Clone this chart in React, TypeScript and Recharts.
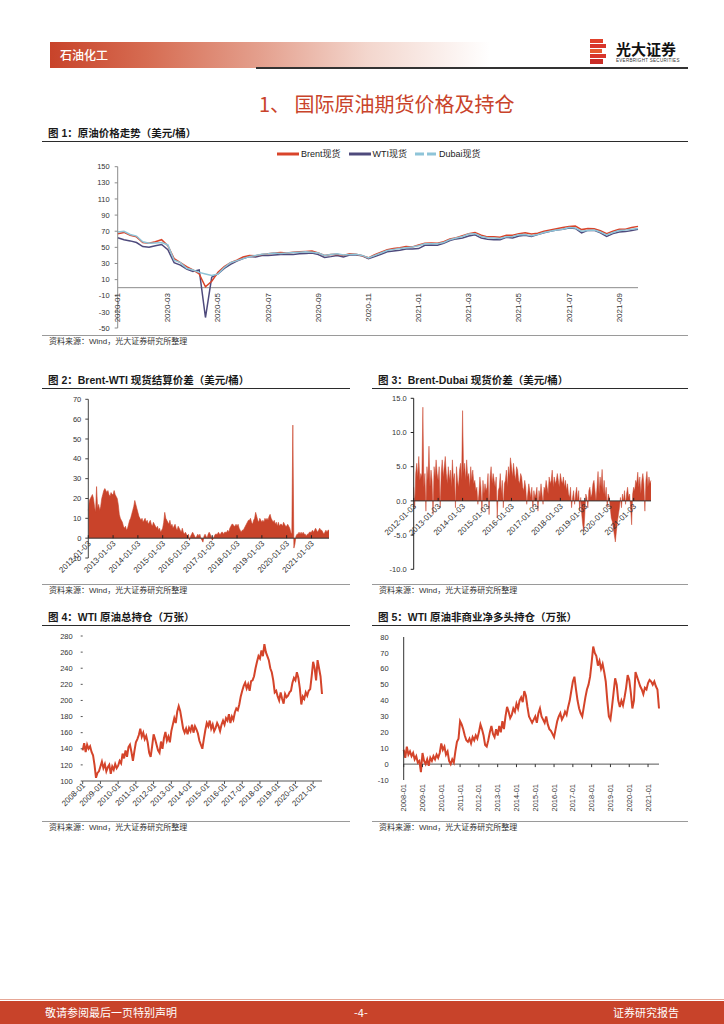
import React from 'react';
import {
  LineChart, Line, AreaChart, Area,
  XAxis, YAxis, ReferenceLine,
} from 'recharts';

const LATIN = '"Liberation Sans", Arial, "Noto Sans CJK SC", sans-serif';
const CJK = '"Noto Sans CJK SC", "Liberation Sans", sans-serif';
const RED = '#c9432a';
const TICK_TEXT = '#333';

// ---- 图1：原油价格走势（weekly samples 2020-01 ~ 2021-09）----
const priceMonths = [
  '2020-01', '2020-02', '2020-03', '2020-04', '2020-05', '2020-06', '2020-07',
  '2020-08', '2020-09', '2020-10', '2020-11', '2020-12', '2021-01', '2021-02',
  '2021-03', '2021-04', '2021-05', '2021-06', '2021-07', '2021-08', '2021-09',
];
const priceWeekDays = ['01', '08', '15', '22'];
const priceTicks = [
  '2020-01-01', '2020-03-01', '2020-05-01', '2020-07-01', '2020-09-01', '2020-11-01',
  '2021-01-01', '2021-03-01', '2021-05-01', '2021-07-01', '2021-09-01',
];
const priceYTicks = [-50, -30, -10, 10, 30, 50, 70, 90, 110, 130, 150];

const brentSpot = [
  67, 68.5, 65, 63, 56, 55, 57, 59.5, 52, 36, 31, 26, 22, 17, 1, 8,
  19, 26, 31, 34, 38, 40, 39.5, 41, 42, 43, 43.5, 43, 44, 44.5, 45, 45.5,
  43, 40, 41, 41.5, 40, 42, 41.5, 39.5, 37, 41, 44, 47, 48.5, 49.5, 51, 50.5,
  53, 55, 55.5, 55, 57, 60.5, 62, 64.5, 67, 68.5, 65, 63, 63, 62.5, 65, 65,
  67, 68, 66.5, 67.5, 70, 71.5, 73, 74.5, 76, 76.5, 72, 73.5, 73, 70.5, 67, 70,
  72.5, 72.5, 74.5, 76,
];
const wtiSpot = [
  62, 59.5, 58, 56, 51, 50, 52, 53.5, 47, 31, 28, 23, 20, 22, -37, 13,
  17, 24, 29, 33, 36, 38.5, 38, 40, 40, 40.5, 41, 41.5, 41, 42, 42.5, 43,
  41, 37.5, 38.5, 40, 38, 40.5, 40.5, 39.5, 36, 38.5, 41.5, 44.5, 45.5, 46.5, 48, 48,
  48.5, 52.5, 53, 52.5, 55, 58.5, 60.5, 61.5, 64, 65.5, 61.5, 60, 59.5, 59.5, 62.5, 61.5,
  64, 65, 63.5, 66, 68, 70, 71.5, 72.5, 74, 73.5, 68, 71, 71, 68, 63.5, 67,
  69, 69.5, 71, 72.5,
];
const dubaiSpot = [
  69, 70, 66, 64, 57, 55, 55.5, 56, 53, 34, 31, 24, 22, 19, 17, 15,
  17, 25, 31, 33.5, 36, 38.5, 40, 41.5, 42, 43, 42.5, 43, 43.5, 44, 44.5, 44,
  43, 40, 41, 42, 40.5, 41, 41.5, 40, 37, 40, 43, 46, 47.5, 48.5, 49.5, 50.5,
  52, 54.5, 54.5, 54.5, 56, 59.5, 61.5, 63.5, 66.5, 67, 63.5, 62, 61.5, 61, 63, 63.5,
  65.5, 66, 64.5, 66, 68.5, 70, 71.5, 72.5, 74.5, 74, 70, 71, 71.5, 69, 65.5, 68.5,
  71, 71.5, 72.5, 73.5,
];

// ---- 图2/图3：价差（semi-monthly samples 2012-01 ~ 2021-09）----
const spreadYears = ['2012', '2013', '2014', '2015', '2016', '2017', '2018', '2019', '2020', '2021'];
const monthNums = ['01', '02', '03', '04', '05', '06', '07', '08', '09', '10', '11', '12'];
const halfMonthDays = ['03', '17'];
const spreadTicks = [
  '2012-01-03', '2013-01-03', '2014-01-03', '2015-01-03', '2016-01-03',
  '2017-01-03', '2018-01-03', '2019-01-03', '2020-01-03', '2021-01-03',
];

const brentWtiSpread = [
  14, 19, 20, 21, 22, 20, 16, 13, 26, 15, 17, 14, 16, 20, 22, 24, 25, 24, 23, 24, 22, 21, 23, 22,
  22, 24, 22, 21, 20, 17, 12, 10, 9, 8, 6, 5, 6, 4, 5, 7, 9, 10, 12, 14, 16, 19, 17, 15,
  13, 11, 10, 9, 10, 8, 9, 10, 8, 9, 7, 8, 9, 7, 6, 8, 7, 6, 5, 6, 4, 5, 3, 4,
  5, 8, 13, 10, 9, 8, 7, 9, 6, 7, 5, 6, 7, 5, 4, 6, 5, 4, 3, 5, 3, 2, 3, 2,
  1, 2, -1, 1, 2, 3, 2, 1, 0, 1, 2, 1, 2, 0, -1, -2, 1, 2, 1, 0, 2, 3, 2, 1,
  -1, 0, 1, 2, 2, 2, 3, 2, 2, 3, 3, 2, 3, 3, 3, 4, 3, 5, 6, 7, 7, 6, 6, 7,
  6, 7, 5, 4, 3, 4, 4, 5, 6, 7, 8, 9, 9, 10, 8, 7, 9, 10, 13, 11, 9, 8, 10, 9,
  8, 9, 8, 10, 9, 10, 9, 11, 12, 10, 9, 8, 9, 7, 8, 6, 8, 6, 7, 7, 6, 8, 7, 6,
  6, 7, 6, 5, 3, 2, 57, -5, -3, 1, 2, 2, 3, 2, 3, 2, 3, 2, 2, 1, 2, 2, 3, 3,
  3, 4, 3, 4, 5, 4, 3, 4, 5, 4, 4, 3, 2, 3, 4, 3, 4, 4,
];
const brentDubaiSpread = [
  2, -1, 4, 5.5, 3.5, 6.5, 3, 4, 3.5, 13.7, 2, 4, -1.5, 5, 3, 8, 2, 4.5, 3, -2, 5, 3.5, 6, 4,
  3, 5, -1, 4, 6, 3.5, 5, 6.5, 4, 2.5, 5, 3, 4.5, 2, 6, 3, 4, -1, 5, 3, 2, 4.5, 5.5, 3,
  13.2, 4, 5.5, 3, 6, 3.5, 4, 2, 5, 3, 4.5, 2.5, 3, 1.5, 2, -0.5, 1, 3.5, 2, -1.5, 3, 1, 2.5, 1.5,
  2, 4, -2, 3.5, 5, 2.5, 4, 3, 2, 3.5, -2.5, 1.5, 2, 4, 1, 3, -1, 2.5, 3, 4.5, 2, 5, 3.5, 6.3,
  5, 3.5, 5.5, 4, 3, 5, 4.5, 3, 2.5, 4, 3.5, 2, 1.5, 3, 2, -0.5, 1, 2.5, 1.5, 0.5, 2, -1, 1.5, 0.5,
  1, 2, -1.5, 1.5, 0.5, 2.5, 1, -0.5, 2, 1.5, 3, 2, 1, 3.5, 2.5, 3, 4.5, 2, 3.5, 2.5, 3, 4, 3, 2,
  4, 3, 2.5, 3.5, 2, 3, 1.5, 2.5, 1, 0.5, 2, -1, 0.5, 1.5, -0.5, 1, 2, 0, 1.5, -1.5, 0.5, -2, -3.5, -4.5,
  -2, 1, 0.5, -1, 1.5, 2, 0.5, 1, 2.5, 3, 1.5, 0, 2, 4.3, 1, 3.5, 2, 4.6, 1, 3, 0.5, 2, -1, 1,
  0.5, -1, -2.5, -3, -4, -5, -6, -4.5, -3, -2, -1, 0.5, -1, 1, 0, 1.5, -0.5, 1, 2, 0.5, 1, -1, -3.5, 1,
  2, 1.5, 3, 2.5, 4.2, 2, 3.5, 1, 3, 4, 2.5, -1.5, 3, 4.3, 2, 3.5, 2.5, 3,
];

// ---- 图4/图5：持仓（monthly 2008-01 ~ 2021）----
const positionYears = [
  '2008', '2009', '2010', '2011', '2012', '2013', '2014',
  '2015', '2016', '2017', '2018', '2019', '2020', '2021',
];
const positionTicks = positionYears.map((y) => `${y}-01`);

const wtiOpenInterest = [
  138, 147, 136, 145, 140, 143, 136, 132, 120, 104, 110, 112,
  118, 124, 116, 121, 112, 117, 120, 109, 118, 114, 121, 116,
  119, 125, 122, 134, 128, 138, 130, 142, 145, 136, 125, 137,
  148, 152, 157, 165, 155, 160, 152, 156, 148, 135, 130, 143,
  158, 152, 145, 138, 135, 149, 140, 153, 161, 150, 155, 148,
  162, 170, 178, 172, 186, 193, 187, 176, 165, 160, 165, 158,
  166, 162, 170, 160, 168, 164, 159, 150, 145, 140, 152, 163,
  172, 168, 175, 165, 170, 162, 166, 172, 168, 162, 170, 175,
  170, 178, 175, 183, 172, 180, 176, 185, 190, 188, 195, 205,
  212, 218, 222, 215, 220, 212, 224, 225, 230, 240, 248, 255,
  252, 262, 255, 270, 260, 255, 250, 240, 235, 225, 210, 212,
  205, 200, 210, 202, 196, 208, 204, 206, 210, 212, 222, 228,
  225, 235, 228, 215, 195, 205, 202, 210, 206, 212, 214, 230,
  248, 240, 225, 250, 240, 230, 208,
];
const wtiNetLong = [
  9, 4, 11, 6, 8, 5, 7, 3, 5, 1, 2, -5,
  7, 2, 0, 3, -1, 4, 2, 5, 3, 6, 4, 7,
  13, 9, 11, 6, 8, 2, 0, 3, 1, 8, 14, 16,
  27, 25, 22, 18, 15, 14, 16, 13, 17, 15, 18, 16,
  20, 25, 22, 18, 12, 11, 15, 20, 24, 19, 17, 22,
  18, 24, 20, 27, 22, 30, 36, 33, 29, 31, 35, 33,
  38, 35, 40, 42, 39, 46, 43, 36, 30, 28, 26, 28,
  30, 26, 32, 35, 30, 28, 26, 30, 25, 22, 21, 19,
  17, 22, 27, 30, 32, 28, 30, 33, 31, 36, 40, 46,
  52, 55, 47, 40, 35, 32, 30, 36, 42, 47, 50, 55,
  64, 74, 70, 68, 62, 65, 60, 63, 58, 52, 40, 30,
  28, 36, 45, 54, 50, 40, 36, 40, 37, 42, 48, 56,
  53, 45, 35, 40, 58, 55, 52, 49, 47, 44, 48, 47,
  51, 53, 52, 50, 52, 49, 47, 35,
];

// tables for recharts
const priceData = priceMonths
  .flatMap((m) => priceWeekDays.map((d) => `${m}-${d}`))
  .map((date, i) => ({ date, brent: brentSpot[i], wti: wtiSpot[i], dubai: dubaiSpot[i] }));

const spreadDates = spreadYears.flatMap((y) =>
  monthNums.flatMap((m) => halfMonthDays.map((d) => `${y}-${m}-${d}`)),
);
const brentWtiData = brentWtiSpread.map((v, i) => ({ date: spreadDates[i], v }));
const brentDubaiData = brentDubaiSpread.map((v, i) => ({ date: spreadDates[i], v }));

const positionMonths = positionYears.flatMap((y) => monthNums.map((m) => `${y}-${m}`));
const openInterestData = wtiOpenInterest.map((v, i) => ({ month: positionMonths[i], v }));
const netLongData = wtiNetLong.map((v, i) => ({ month: positionMonths[i], v }));

const tickFont = { fontSize: 7.5, fill: TICK_TEXT, fontFamily: LATIN };

const PriceTick = ({ x, payload, top }: any) => (
  <text
    x={x}
    y={top}
    transform={`rotate(-90 ${x} ${top})`}
    textAnchor="end"
    dominantBaseline="central"
    fontSize={8}
    fill={TICK_TEXT}
    fontFamily={LATIN}
  >
    {String(payload.value).slice(0, 7)}
  </text>
);

const ZeroDiagTick = ({ x, payload, zeroY }: any) => (
  <g>
    <line x1={x} x2={x} y1={zeroY} y2={zeroY - 3} stroke="#222" />
    <text
      x={x + 3}
      y={zeroY + 6}
      transform={`rotate(-45 ${x + 3} ${zeroY + 6})`}
      textAnchor="end"
      fontSize={8}
      fill={TICK_TEXT}
      fontFamily={LATIN}
    >
      {payload.value}
    </text>
  </g>
);

const BottomDiagTick = ({ x, payload, top }: any) => (
  <text
    x={x + 3}
    y={top}
    transform={`rotate(-45 ${x + 3} ${top})`}
    textAnchor="end"
    fontSize={8}
    fill={TICK_TEXT}
    fontFamily={LATIN}
  >
    {payload.value}
  </text>
);

const BottomVertTick = ({ x, payload, top, zeroY }: any) => (
  <g>
    <line x1={x} x2={x} y1={zeroY} y2={zeroY + 3} stroke="#333" />
    <text
      x={x}
      y={top}
      transform={`rotate(-90 ${x} ${top})`}
      textAnchor="end"
      dominantBaseline="central"
      fontSize={7.5}
      fill={TICK_TEXT}
      fontFamily={LATIN}
    >
      {payload.value}
    </text>
  </g>
);

const abs = (left: number, top: number, extra: React.CSSProperties = {}): React.CSSProperties => ({
  position: 'absolute',
  left,
  top,
  ...extra,
});

const Caption = ({ left, top, width, text }: { left: number; top: number; width: number; text: string }) => (
  <>
    <div
      style={abs(left + 6, top, {
        fontFamily: LATIN,
        fontWeight: 'bold',
        fontSize: 10.5,
        lineHeight: '14px',
        color: '#1a1a1a',
        whiteSpace: 'pre',
      })}
    >
      {text}
    </div>
    <div style={abs(left, top + 15, { width, height: 1, background: '#2b2b2b' })} />
  </>
);

const Source = ({ left, top, width }: { left: number; top: number; width: number }) => (
  <>
    <div style={abs(left, top, { width, height: 1, background: '#9a9a9a' })} />
    <div
      style={abs(left + 7, top + 1, {
        fontFamily: LATIN,
        fontSize: 8,
        lineHeight: '11px',
        color: '#333',
        whiteSpace: 'pre',
      })}
    >
      资料来源：Wind，光大证券研究所整理
    </div>
  </>
);

const LegendItem = ({ color, label, dashed }: { color: string; label: string; dashed?: boolean }) => (
  <div style={{ display: 'flex', alignItems: 'center', marginRight: 8 }}>
    <svg width={22} height={6} style={{ marginRight: 2 }}>
      <line
        x1={0}
        x2={22}
        y1={3}
        y2={3}
        stroke={color}
        strokeWidth={3}
        strokeDasharray={dashed ? '9 3' : undefined}
      />
    </svg>
    <span>{label}</span>
  </div>
);

export default function App() {
  return (
    <div
      style={{
        position: 'absolute',
        left: 0,
        top: 0,
        width: 724,
        height: 1024,
        background: '#fff',
        overflow: 'hidden',
        fontFamily: LATIN,
      }}
    >
      {/* header */}
      <div
        style={abs(50, 42, {
          width: 440,
          height: 26,
          background:
            'linear-gradient(90deg, #c8432a 0%, #d66c52 22%, #e4a08e 48%, #f3d6cd 72%, #ffffff 100%)',
        })}
      />
      <div style={abs(60, 46, { fontFamily: CJK, fontSize: 12, lineHeight: '17px', color: '#fff', fontWeight: 500 })}>
        石油化工
      </div>
      <div style={abs(256, 67, { width: 432, height: 1.5, background: '#333' })} />
      <svg style={abs(590, 39)} width={17} height={26}>
        <rect x={0} y={0} width={13} height={4} fill="#e0402a" />
        <rect x={0} y={5} width={16} height={4} fill="#d8352a" />
        <rect x={0} y={10} width={12} height={4} fill="#e55a2f" />
        <rect x={0} y={15} width={16} height={4} fill="#d8352a" />
        <rect x={0} y={20} width={13} height={5} fill="#c92d27" />
      </svg>
      <div style={abs(616, 40, { fontFamily: CJK, fontSize: 15, fontWeight: 'bold', lineHeight: '18px', color: '#111' })}>
        光大证券
      </div>
      <div style={abs(616, 58, { fontSize: 4.5, lineHeight: '6px', color: '#333', letterSpacing: 0.3 })}>
        EVERBRIGHT SECURITIES
      </div>

      {/* section title */}
      <div
        style={abs(259, 91, {
          fontFamily: CJK,
          fontSize: 20,
          lineHeight: '26px',
          color: RED,
          whiteSpace: 'pre',
        })}
      >
        1、 国际原油期货价格及持仓
      </div>

      {/* 图1 */}
      <Caption left={42} top={126} width={646} text="图 1：原油价格走势（美元/桶）" />
      <div
        style={abs(277, 148, {
          display: 'flex',
          fontFamily: LATIN,
          fontSize: 9,
          lineHeight: '12px',
          color: '#222',
        })}
      >
        <LegendItem color="#d9442a" label="Brent现货" />
        <LegendItem color="#4e4a7c" label="WTI现货" />
        <LegendItem color="#8ec4d8" label="Dubai现货" dashed />
      </div>
      <div style={abs(42, 145)}>
        <LineChart width={646} height={190} data={priceData} margin={{ top: 21.7, right: 50, bottom: 6, left: 0 }}>
          <XAxis
            dataKey="date"
            ticks={priceTicks}
            interval={0}
            axisLine={false}
            tickLine={false}
            height={1}
            tick={<PriceTick top={148} />}
          />
          <YAxis
            domain={[-50, 150]}
            ticks={priceYTicks}
            interval={0}
            width={75.7}
            axisLine={{ stroke: '#8c8c8c' }}
            tickLine={{ stroke: '#8c8c8c' }}
            tickSize={3}
            tickMargin={5}
            tick={tickFont}
          />
          <ReferenceLine y={0} stroke="#8c8c8c" />
          <Line dataKey="wti" stroke="#4e4a7c" strokeWidth={1.5} dot={false} isAnimationActive={false} />
          <Line dataKey="brent" stroke="#d9442a" strokeWidth={1.5} dot={false} isAnimationActive={false} />
          <Line dataKey="dubai" stroke="#8ec4d8" strokeWidth={1.5} dot={false} isAnimationActive={false} />
        </LineChart>
      </div>
      <Source left={42} top={335} width={646} />

      {/* 图2 */}
      <Caption left={42} top={373} width={308} text="图 2：Brent-WTI 现货结算价差（美元/桶）" />
      <div style={abs(42, 390)}>
        <AreaChart width={300} height={200} data={brentWtiData} margin={{ top: 9.3, right: 13, bottom: 31, left: 0 }}>
          <XAxis
            dataKey="date"
            ticks={spreadTicks}
            interval={0}
            axisLine={false}
            tickLine={false}
            height={1}
            tick={<ZeroDiagTick zeroY={148.2} />}
          />
          <YAxis
            domain={[-10, 70]}
            ticks={[-10, 0, 10, 20, 30, 40, 50, 60, 70]}
            interval={0}
            width={46.3}
            axisLine={{ stroke: '#444' }}
            tickLine={{ stroke: '#444' }}
            tickSize={3}
            tickMargin={4}
            tick={tickFont}
          />
          <Area
            type="linear"
            dataKey="v"
            stroke={RED}
            strokeWidth={0.6}
            fill={RED}
            fillOpacity={1}
            baseValue={0}
            isAnimationActive={false}
          />
          <ReferenceLine y={0} stroke="#333" />
        </AreaChart>
      </div>
      <Source left={42} top={584} width={308} />

      {/* 图3 */}
      <Caption left={372} top={373} width={316} text="图 3：Brent-Dubai 现货价差（美元/桶）" />
      <div style={abs(372, 390)}>
        <AreaChart width={300} height={200} data={brentDubaiData} margin={{ top: 8.3, right: 21, bottom: 19.7, left: 0 }}>
          <XAxis
            dataKey="date"
            ticks={spreadTicks}
            interval={0}
            axisLine={false}
            tickLine={false}
            height={1}
            tick={<ZeroDiagTick zeroY={110.9} />}
          />
          <YAxis
            domain={[-10, 15]}
            ticks={[-10, -5, 0, 5, 10, 15]}
            interval={0}
            width={41.7}
            axisLine={{ stroke: '#222' }}
            tickLine={{ stroke: '#222' }}
            tickSize={3}
            tickMargin={4}
            tickFormatter={(v: number) => v.toFixed(1)}
            tick={tickFont}
          />
          <Area
            type="linear"
            dataKey="v"
            stroke={RED}
            strokeWidth={0.5}
            fill={RED}
            fillOpacity={1}
            baseValue={0}
            isAnimationActive={false}
          />
          <ReferenceLine y={0} stroke="#333" />
        </AreaChart>
      </div>
      <Source left={372} top={584} width={316} />

      {/* 图4 */}
      <Caption left={42} top={610} width={308} text="图 4：WTI 原油总持仓（万张）" />
      <div style={abs(42, 625)}>
        <LineChart width={300} height={205} data={openInterestData} margin={{ top: 11, right: 20, bottom: 0, left: 0 }}>
          <XAxis
            dataKey="month"
            ticks={positionTicks}
            interval={0}
            height={49}
            axisLine={{ stroke: '#555' }}
            tickLine={{ stroke: '#555' }}
            tickSize={3}
            tick={<BottomDiagTick top={161} />}
          />
          <YAxis
            domain={[100, 280]}
            ticks={[100, 120, 140, 160, 180, 200, 220, 240, 260, 280]}
            interval={0}
            width={40.7}
            axisLine={false}
            tickLine={{ stroke: '#555' }}
            tickSize={2}
            tickMargin={8}
            tick={tickFont}
          />
          <Line dataKey="v" stroke="#d4442a" strokeWidth={2} dot={false} isAnimationActive={false} />
        </LineChart>
      </div>
      <Source left={42} top={821} width={308} />

      {/* 图5 */}
      <Caption left={372} top={610} width={316} text="图 5：WTI 原油非商业净多头持仓（万张）" />
      <div style={abs(372, 625)}>
        <LineChart width={300} height={205} data={netLongData} margin={{ top: 12, right: 13, bottom: 0, left: 0 }}>
          <XAxis
            dataKey="month"
            ticks={positionTicks}
            interval={0}
            height={50}
            axisLine={false}
            tickLine={false}
            tick={<BottomVertTick top={159} zeroY={139.1} />}
          />
          <YAxis
            domain={[-10, 80]}
            ticks={[-10, 0, 10, 20, 30, 40, 50, 60, 70, 80]}
            interval={0}
            width={31.7}
            axisLine={{ stroke: '#333' }}
            tickLine={false}
            tickMargin={9}
            tick={tickFont}
          />
          <ReferenceLine y={0} stroke="#555" />
          <Line dataKey="v" stroke="#d4442a" strokeWidth={2} dot={false} isAnimationActive={false} />
        </LineChart>
      </div>
      <Source left={372} top={821} width={316} />

      {/* footer */}
      <div style={abs(0, 999, { width: 724, height: 1, background: '#e6a796' })} />
      <div style={abs(0, 1001, { width: 724, height: 23, background: '#c8432a' })} />
      <div style={abs(45, 1005, { fontFamily: CJK, fontSize: 11, lineHeight: '14px', color: '#fff' })}>
        敬请参阅最后一页特别声明
      </div>
      <div style={abs(354, 1005, { fontFamily: CJK, fontSize: 11, lineHeight: '14px', color: '#fff' })}>-4-</div>
      <div style={abs(613, 1005, { fontFamily: CJK, fontSize: 11, lineHeight: '14px', color: '#fff' })}>
        证券研究报告
      </div>
    </div>
  );
}
